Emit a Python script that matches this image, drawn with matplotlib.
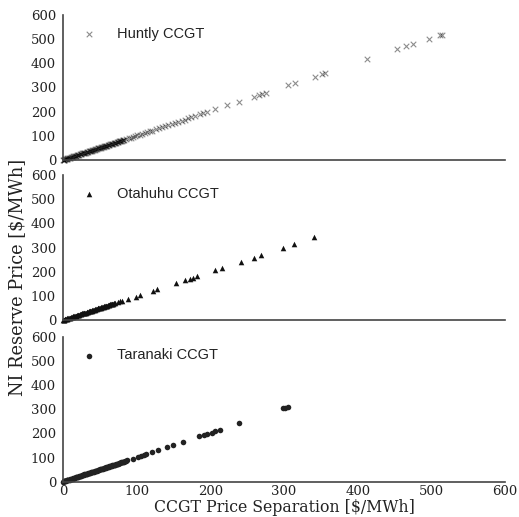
import matplotlib
matplotlib.use("Agg")
import matplotlib.pyplot as plt

# CCGT price separation (x) vs NI reserve price (y), $/MWh
huntly_sep = [0, 1, 1, 2, 3, 3, 4, 5, 6, 6, 7, 8, 9, 10, 11, 12, 13, 14, 15, 16, 17, 18, 19, 20,
              21, 22, 23, 24, 25, 26, 27, 28, 29, 30, 31, 32, 33, 34, 35, 36, 37, 38, 39, 40,
              41, 42, 43, 44, 45, 46, 47, 48, 49, 50, 51, 52, 53, 54, 55, 56, 57, 58, 59, 60,
              61, 62, 63, 64, 65, 66, 67, 68, 69, 70, 71, 72, 73, 74, 75, 76, 77, 78, 79, 80,
              81, 82, 83,
              86, 89, 92, 95, 98, 101, 104, 107, 111, 114, 118, 121, 126, 130, 135, 139, 143,
              148, 152, 156, 161, 165, 170, 174, 179, 186, 190, 195, 206, 223, 239, 259, 266,
              270, 276, 306, 315, 342, 352, 356, 412, 454, 465, 475, 497, 512, 515]
huntly_res = [0, 2, 1, 2, 4, 3, 4, 6, 6, 7, 7, 9, 9, 10, 12, 12, 13, 15, 15, 16, 18, 18, 19, 21,
              21, 22, 24, 24, 25, 27, 27, 28, 30, 30, 31, 33, 33, 34, 36, 36, 37, 39, 39, 40,
              42, 42, 43, 45, 45, 46, 48, 48, 49, 51, 51, 52, 54, 54, 55, 57, 57, 58, 60, 60,
              62, 62, 63, 65, 65, 66, 68, 68, 69, 71, 71, 72, 74, 74, 75, 77, 77, 78, 80, 80,
              82, 82, 83,
              87, 90, 93, 96, 99, 102, 105, 108, 112, 115, 119, 122, 127, 131, 136, 140, 145,
              150, 154, 158, 163, 167, 172, 176, 181, 189, 193, 198, 209, 226, 242, 262, 268,
              273, 279, 309, 319, 345, 356, 360, 416, 458, 470, 480, 501, 517, 519]

otahuhu_sep = [0, 1, 1, 2, 3, 3, 4, 5, 6, 6, 7, 8, 9, 10, 11, 12, 13, 14, 15, 16, 17, 18, 19,
               20, 21, 22, 23, 24, 25, 26, 27, 28, 29, 30, 31, 32, 33, 34, 35, 36, 37, 38, 39,
               40, 41, 42, 43, 44, 45, 46, 47, 48, 49, 50, 51, 52, 53, 54, 55, 56, 57, 58, 59,
               60, 61, 62, 63, 64, 65, 66, 67, 68, 69, 70,
               75, 78, 80, 88, 99, 104, 122, 128, 153, 166, 172, 177, 182, 207, 216, 241, 259,
               269, 299, 313, 341]
otahuhu_res = [0, 2, 1, 2, 4, 3, 4, 6, 6, 7, 7, 9, 9, 10, 12, 12, 13, 15, 15, 16, 18, 18, 19,
               21, 21, 22, 24, 24, 25, 27, 27, 28, 30, 30, 31, 33, 33, 34, 36, 36, 37, 39, 39,
               40, 42, 42, 43, 45, 45, 46, 48, 48, 49, 51, 51, 52, 54, 54, 55, 57, 57, 58, 60,
               60, 62, 62, 63, 65, 65, 66, 68, 68, 69, 70,
               75, 77, 80, 86, 96, 102, 120, 127, 152, 166, 171, 175, 181, 206, 215, 240, 258,
               269, 299, 314, 342]

taranaki_sep = [0, 1, 1, 2, 3, 3, 4, 5, 6, 6, 7, 8, 9, 10, 11, 12, 13, 14, 15, 16, 17, 18, 19,
                20, 21, 22, 23, 24, 25, 26, 27, 28, 29, 30, 31, 32, 33, 34, 35, 36, 37, 38, 39,
                40, 41, 42, 43, 44, 45, 46, 47, 48, 49, 50, 51, 52, 53, 54, 55, 56, 57, 58, 59,
                60, 61, 62, 63, 64, 65, 66, 67, 68, 69, 70, 71, 72, 73, 74, 75, 76, 77, 78, 79,
                80, 81, 82, 83, 84, 85,
                87, 95, 102, 106, 110, 113, 121, 129, 141, 149, 163, 185, 192, 196, 202, 207,
                213, 239, 299, 302, 305]
taranaki_res = [0, 2, 1, 2, 4, 3, 4, 6, 6, 7, 7, 9, 9, 10, 12, 12, 13, 15, 15, 16, 18, 18, 19,
                21, 21, 22, 24, 24, 25, 27, 27, 28, 30, 30, 31, 33, 33, 34, 36, 36, 37, 39, 39,
                40, 42, 42, 43, 45, 45, 46, 48, 48, 49, 51, 51, 52, 54, 54, 55, 57, 57, 58, 60,
                60, 62, 62, 63, 65, 65, 66, 68, 68, 69, 71, 71, 72, 74, 74, 75, 77, 77, 78, 80,
                80, 82, 82, 83, 85, 85,
                89, 94, 101, 105, 109, 113, 122, 130, 142, 151, 166, 189, 193, 197, 203, 208,
                214, 242, 304, 306, 309]

ticks = [0, 100, 200, 300, 400, 500, 600]

fig = plt.figure(figsize=(5.19, 5.17), dpi=100)
left, width = 63 / 519, 442 / 519
boxes = [(1 - 160 / 517, 145 / 517), (1 - 320 / 517, 145 / 517), (1 - 481.7 / 517, 145 / 517)]

series = [
    (huntly_sep, huntly_res, "Huntly CCGT", "x", "black", 0.45, 16),
    (otahuhu_sep, otahuhu_res, "Otahuhu CCGT", "^", "#111111", 1.0, 16),
    (taranaki_sep, taranaki_res, "Taranaki CCGT", "o", "#222222", 1.0, 16),
]

for i, ((xs, ys, name, mk, col, alpha, s), (b, h)) in enumerate(zip(series, boxes)):
    ax = fig.add_axes([left, b, width, h])
    lw = 0.8 if mk == "x" else 0
    ax.scatter(xs, ys, marker=mk, s=s, color=col, alpha=alpha, linewidths=lw,
               label=name, clip_on=False)
    ax.set_xlim(0, 600)
    ax.set_ylim(0, 600)
    ax.set_yticks(ticks)
    ax.set_xticks(ticks)
    for side in ("top", "right"):
        ax.spines[side].set_visible(False)
    for side in ("left", "bottom"):
        ax.spines[side].set_color("#444444")
        ax.spines[side].set_linewidth(1.2)
    ax.tick_params(axis="y", length=0, pad=5, labelsize=9.5, labelcolor="#222222")
    ax.tick_params(axis="x", length=0, pad=2.5, labelsize=9.5, labelcolor="#222222")
    for lab in ax.get_yticklabels() + ax.get_xticklabels():
        lab.set_family("DejaVu Serif")
    if i < 2:
        ax.set_xticklabels([])
    leg = ax.legend(loc="upper left", bbox_to_anchor=(0.0, 1.0), frameon=False,
                    scatterpoints=1, handletextpad=0.9, borderaxespad=0.4,
                    prop={"family": "Liberation Sans", "size": 10.5})
    for t in leg.get_texts():
        t.set_color("#222222")

fig.text(284 / 519, 1 / 517, "CCGT Price Separation [$/MWh]", va="bottom", ha="center",
         family="DejaVu Serif", fontsize=11.3, color="#222222")
fig.text(17 / 519, 0.463, "NI Reserve Price [$/MWh]", rotation=90, va="center", ha="center",
         family="DejaVu Serif", fontsize=12.8, color="#222222")

fig.savefig("out.png", dpi=100)
